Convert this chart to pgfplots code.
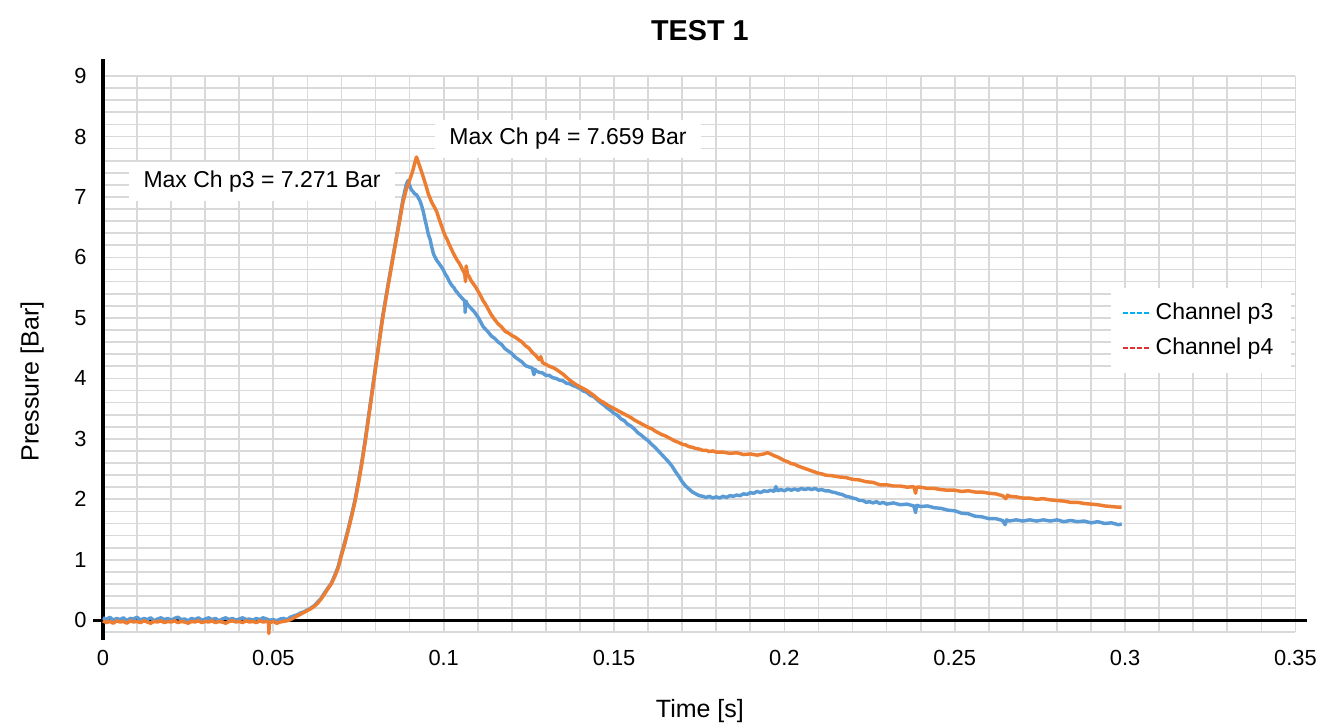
\documentclass[border=0pt]{standalone}
\usepackage{fontspec}
\setmainfont{Liberation Sans}
\usepackage{pgfplots}
\pgfplotsset{compat=1.18}
\definecolor{p3line}{HTML}{5B9BD5}
\definecolor{p4line}{HTML}{ED7D31}
\definecolor{p3leg}{HTML}{00B0F0}
\definecolor{p4leg}{HTML}{E03030}
\definecolor{gridgray}{HTML}{D9D9D9}

\begin{document}
\begin{tikzpicture}
\begin{axis}[
  scale only axis, width=414.8pt, height=193.5pt,
  xmin=0, xmax=0.35, ymin=-0.2, ymax=9,
  axis line style={draw=none},
  clip=false,
  xtick={0,0.05,0.1,0.15,0.2,0.25,0.3,0.35},
  xticklabels={0,0.05,0.1,0.15,0.2,0.25,0.3,0.35},
  ytick={0,1,2,3,4,5,6,7,8,9},
  yticklabels={0,1,2,3,4,5,6,7,8,9},
  extra y ticks={-0.2}, extra y tick labels={},
  extra y tick style={grid=major},
  minor x tick num=4, minor y tick num=4,
  major tick length=0pt, minor tick length=0pt,
  grid=both,
  major grid style={gridgray, line width=0.6pt},
  minor grid style={gridgray, line width=0.6pt},
  tick label style={font=\fontsize{7.6}{9}\selectfont, inner sep=0.5pt},
  xticklabel style={yshift=-5.6pt},
  yticklabel style={xshift=-5pt},
  legend style={at={(axis cs:0.3222,4.79)}, anchor=center, draw=none, fill=white,
    font=\fontsize{8}{10}\selectfont, inner xsep=4pt, inner ysep=3pt, row sep=1pt},
  legend cell align=left,
  legend image code/.code={\draw[#1] (0pt,0pt) -- (9pt,0pt);},
]
% bounding box of the whole chart
\path (axis cs:-0.03023,-1.7207) rectangle (axis cs:0.3575,10.258);

% axis lines
\draw[line width=1.1pt] (axis cs:0,-0.33) -- (axis cs:0,9.29);
\draw[line width=1.1pt] (axis cs:-0.003,0) -- (axis cs:0.3535,0);

% Channel p3
\addplot[p3line, line width=1.2pt, line join=round, forget plot] coordinates {
(0,0.04)(0.001,0.01)(0.002,0.05)(0.003,0.00)(0.004,0.03)(0.005,0.01)(0.006,0.04)(0.007,-0.01)(0.008,0.03)(0.009,0.02)
(0.010,0.05)(0.011,0.00)(0.012,0.03)(0.013,0.01)(0.014,0.04)(0.015,-0.01)(0.016,0.02)(0.017,0.04)(0.018,0.01)(0.019,0.03)
(0.020,0.00)(0.021,0.03)(0.022,0.05)(0.023,0.01)(0.024,0.02)(0.025,-0.01)(0.026,0.03)(0.027,0.01)(0.028,0.04)(0.029,0.00)
(0.030,0.02)(0.031,0.04)(0.032,0.01)(0.033,0.03)(0.034,-0.01)(0.035,0.02)(0.036,0.04)(0.037,0.01)(0.038,0.03)(0.039,0.00)
(0.040,0.02)(0.041,0.04)(0.042,0.01)(0.043,0.02)(0.044,0.00)(0.045,0.03)(0.046,0.01)(0.047,0.04)(0.048,0.02)(0.049,0.00)
(0.050,0.01)(0.051,-0.01)(0.052,0.02)(0.053,0.03)(0.054,0.01)(0.055,0.05)
(0.056,0.07)(0.057,0.09)(0.058,0.12)(0.059,0.14)(0.060,0.17)(0.061,0.20)(0.062,0.24)(0.063,0.30)(0.064,0.36)(0.065,0.45)
(0.066,0.53)(0.067,0.61)(0.068,0.74)(0.069,0.88)(0.070,1.10)(0.071,1.30)(0.072,1.52)(0.073,1.75)(0.074,2.00)(0.075,2.30)
(0.076,2.63)(0.077,3.00)(0.078,3.40)(0.079,3.80)(0.080,4.20)(0.081,4.60)(0.082,5.00)(0.083,5.33)(0.084,5.66)(0.085,5.98)
(0.086,6.30)(0.087,6.62)(0.088,6.95)(0.089,7.20)(0.0895,7.27)
(0.0900,7.19)(0.0905,7.12)(0.0910,7.09)(0.0915,7.05)(0.0920,7.04)(0.0925,6.99)(0.0930,6.94)(0.0935,6.86)(0.0940,6.76)(0.0945,6.63)
(0.0950,6.51)(0.0955,6.38)(0.0960,6.30)(0.0965,6.17)(0.0970,6.06)(0.0975,6.00)(0.0980,5.95)(0.0985,5.91)(0.0990,5.87)(0.0995,5.83)
(0.1000,5.78)(0.1005,5.72)(0.1010,5.68)(0.1015,5.62)(0.1020,5.57)(0.1025,5.53)(0.1030,5.50)(0.1035,5.45)(0.1040,5.42)(0.1045,5.38)
(0.1050,5.35)(0.1055,5.32)(0.1060,5.29)(0.1062,5.27)(0.1063,5.09)(0.1065,5.28)(0.1070,5.22)(0.1075,5.19)(0.1080,5.16)(0.1085,5.13)
(0.1090,5.10)(0.1095,5.06)(0.1100,5.02)(0.1105,4.97)(0.1110,4.92)(0.1115,4.86)(0.1120,4.83)(0.1130,4.77)(0.1140,4.70)(0.1150,4.66)
(0.1160,4.60)(0.1170,4.56)(0.1180,4.49)(0.1190,4.45)(0.1200,4.41)(0.1210,4.35)(0.1220,4.31)(0.1230,4.27)(0.1240,4.21)(0.1250,4.19)
(0.1260,4.17)(0.1265,4.06)(0.1268,4.15)(0.1270,4.13)(0.1280,4.10)(0.1290,4.09)(0.1300,4.05)(0.1310,4.05)(0.1320,4.01)(0.1330,4.00)
(0.1340,3.97)(0.1350,3.96)(0.1360,3.92)(0.1370,3.91)(0.1380,3.88)(0.1390,3.86)(0.1400,3.83)(0.1410,3.79)(0.1420,3.77)(0.1430,3.72)
(0.1440,3.70)(0.1450,3.65)(0.1460,3.60)(0.1470,3.56)(0.1480,3.51)(0.1490,3.47)(0.1500,3.42)(0.1510,3.39)(0.1520,3.33)(0.1530,3.30)
(0.1540,3.24)(0.1550,3.21)(0.1560,3.16)(0.1570,3.10)(0.1580,3.06)(0.1590,3.01)(0.1600,2.97)(0.1610,2.91)(0.1620,2.86)(0.1630,2.80)
(0.1640,2.74)(0.1650,2.68)(0.1660,2.62)(0.1670,2.55)(0.1680,2.46)(0.1690,2.38)(0.1700,2.29)(0.1710,2.22)(0.1720,2.17)(0.1730,2.12)
(0.1740,2.09)(0.1750,2.06)(0.1760,2.05)(0.1770,2.03)(0.1780,2.05)(0.1790,2.02)(0.1800,2.04)(0.1810,2.02)(0.1820,2.05)(0.1830,2.03)
(0.1840,2.06)(0.1850,2.05)(0.1860,2.07)(0.1870,2.06)(0.1880,2.09)(0.1890,2.08)(0.1900,2.11)(0.1910,2.10)(0.1920,2.13)(0.1930,2.11)
(0.1940,2.14)(0.1950,2.13)(0.1960,2.15)(0.1970,2.13)(0.1975,2.21)(0.1980,2.14)(0.1990,2.16)(0.2000,2.14)(0.2010,2.17)(0.2020,2.15)
(0.2030,2.17)(0.2040,2.15)(0.2050,2.18)(0.2060,2.16)(0.2070,2.18)(0.2080,2.16)(0.2090,2.18)(0.2100,2.15)(0.2110,2.16)(0.2120,2.14)
(0.2130,2.14)(0.2140,2.12)(0.2150,2.11)(0.2160,2.09)(0.2170,2.08)(0.2180,2.05)(0.2190,2.04)(0.2200,2.02)(0.2210,2.01)(0.2220,1.98)
(0.2230,1.98)(0.2240,1.95)(0.2250,1.96)(0.2260,1.94)(0.2270,1.96)(0.2280,1.93)(0.2290,1.95)(0.2300,1.92)(0.2320,1.94)(0.2340,1.91)
(0.2360,1.92)(0.2380,1.89)(0.2385,1.78)(0.2388,1.90)(0.2400,1.88)(0.2420,1.89)(0.2440,1.86)(0.2460,1.85)(0.2480,1.82)(0.2500,1.81)
(0.2520,1.77)(0.2540,1.76)(0.2560,1.72)(0.2580,1.71)(0.2600,1.68)(0.2620,1.68)(0.2640,1.65)(0.2648,1.58)(0.2652,1.66)(0.2660,1.64)
(0.2680,1.66)(0.2700,1.64)(0.2720,1.66)(0.2740,1.64)(0.2760,1.66)(0.2780,1.64)(0.2800,1.66)(0.2820,1.63)(0.2840,1.65)(0.2860,1.63)
(0.2880,1.64)(0.2900,1.61)(0.2920,1.63)(0.2940,1.60)(0.2960,1.61)(0.2980,1.58)(0.2990,1.59)
};

% Channel p4
\addplot[p4line, line width=1.2pt, line join=round, forget plot] coordinates {
(0,-0.01)(0.001,-0.04)(0.002,-0.02)(0.003,-0.05)(0.004,-0.01)(0.005,-0.03)(0.006,-0.02)(0.007,-0.05)(0.008,-0.01)(0.009,-0.03)
(0.010,-0.02)(0.011,-0.04)(0.012,-0.01)(0.013,-0.03)(0.014,-0.05)(0.015,-0.02)(0.016,-0.03)(0.017,-0.01)(0.018,-0.04)(0.019,-0.02)
(0.020,-0.03)(0.021,-0.01)(0.022,-0.04)(0.023,-0.02)(0.024,-0.03)(0.025,-0.05)(0.026,-0.02)(0.027,-0.03)(0.028,-0.01)(0.029,-0.04)
(0.030,-0.02)(0.031,-0.03)(0.032,-0.01)(0.033,-0.04)(0.034,-0.02)(0.035,-0.03)(0.036,-0.05)(0.037,-0.02)(0.038,-0.01)(0.039,-0.03)
(0.040,-0.02)(0.041,-0.04)(0.042,-0.01)(0.043,-0.03)(0.044,-0.02)(0.045,-0.04)(0.046,-0.01)(0.047,-0.03)(0.048,-0.02)(0.0486,-0.03)
(0.0487,-0.22)(0.0488,-0.03)(0.049,-0.04)(0.050,-0.02)(0.051,-0.05)(0.052,-0.03)(0.053,-0.02)(0.054,-0.01)(0.055,0.01)
(0.056,0.04)(0.057,0.07)(0.058,0.10)(0.059,0.13)(0.060,0.16)(0.061,0.19)(0.062,0.23)(0.063,0.28)(0.064,0.35)(0.065,0.43)
(0.066,0.52)(0.067,0.60)(0.068,0.72)(0.069,0.86)(0.070,1.07)(0.071,1.27)(0.072,1.49)(0.073,1.72)(0.074,1.97)(0.075,2.27)
(0.076,2.60)(0.077,2.96)(0.078,3.36)(0.079,3.76)(0.080,4.16)(0.081,4.56)(0.082,4.96)(0.083,5.30)(0.084,5.63)(0.085,5.95)
(0.086,6.27)(0.087,6.58)(0.088,6.90)(0.089,7.12)
(0.0900,7.28)(0.0905,7.36)(0.0910,7.45)(0.0915,7.56)(0.0920,7.66)(0.0923,7.62)(0.0927,7.55)(0.0930,7.50)(0.0935,7.42)(0.0940,7.33)
(0.0945,7.24)(0.0950,7.15)(0.0955,7.05)(0.0960,6.98)(0.0965,6.91)(0.0970,6.86)(0.0975,6.81)(0.0980,6.75)(0.0985,6.66)(0.0990,6.58)
(0.0995,6.50)(0.1000,6.42)(0.1005,6.35)(0.1010,6.30)(0.1015,6.23)(0.1020,6.17)(0.1025,6.11)(0.1030,6.05)(0.1035,6.00)(0.1040,5.95)
(0.1045,5.91)(0.1050,5.86)(0.1055,5.80)(0.1060,5.75)(0.1062,5.72)(0.1064,5.60)(0.1066,5.86)(0.1070,5.72)(0.1075,5.68)(0.1080,5.62)
(0.1085,5.58)(0.1090,5.54)(0.1095,5.50)(0.1100,5.45)(0.1105,5.40)(0.1110,5.35)(0.1115,5.29)(0.1120,5.25)(0.1130,5.15)(0.1140,5.05)
(0.1150,4.97)(0.1160,4.90)(0.1170,4.85)(0.1180,4.78)(0.1190,4.75)(0.1200,4.71)(0.1210,4.68)(0.1220,4.64)(0.1230,4.60)(0.1240,4.54)
(0.1250,4.50)(0.1260,4.43)(0.1270,4.38)(0.1280,4.31)(0.1285,4.36)(0.1290,4.26)(0.1300,4.23)(0.1310,4.20)(0.1320,4.18)(0.1330,4.15)
(0.1340,4.11)(0.1350,4.07)(0.1360,4.02)(0.1370,3.97)(0.1380,3.93)(0.1390,3.89)(0.1400,3.86)(0.1410,3.83)(0.1420,3.80)(0.1430,3.76)
(0.1440,3.72)(0.1450,3.67)(0.1460,3.63)(0.1470,3.60)(0.1480,3.56)(0.1490,3.53)(0.1500,3.50)(0.1510,3.47)(0.1520,3.44)(0.1530,3.41)
(0.1540,3.38)(0.1550,3.35)(0.1560,3.31)(0.1570,3.28)(0.1580,3.25)(0.1590,3.22)(0.1600,3.19)(0.1610,3.17)(0.1620,3.13)(0.1630,3.10)
(0.1640,3.07)(0.1650,3.05)(0.1660,3.02)(0.1670,2.99)(0.1680,2.96)(0.1690,2.94)(0.1700,2.91)(0.1710,2.90)(0.1720,2.87)(0.1730,2.86)
(0.1740,2.84)(0.1750,2.83)(0.1760,2.81)(0.1770,2.81)(0.1780,2.79)(0.1790,2.80)(0.1800,2.78)(0.1820,2.78)(0.1840,2.76)(0.1860,2.77)
(0.1880,2.74)(0.1900,2.75)(0.1920,2.73)(0.1940,2.75)(0.1950,2.77)(0.1960,2.75)(0.1970,2.72)(0.1980,2.70)(0.1990,2.67)(0.2000,2.64)
(0.2010,2.62)(0.2020,2.59)(0.2030,2.58)(0.2040,2.55)(0.2050,2.53)(0.2060,2.51)(0.2070,2.49)(0.2080,2.47)(0.2090,2.45)(0.2100,2.43)
(0.2110,2.42)(0.2120,2.40)(0.2140,2.39)(0.2160,2.37)(0.2180,2.36)(0.2200,2.33)(0.2220,2.32)(0.2240,2.29)(0.2260,2.28)(0.2280,2.24)
(0.2300,2.24)(0.2320,2.22)(0.2340,2.22)(0.2360,2.20)(0.2380,2.21)(0.2385,2.10)(0.2388,2.20)(0.2400,2.20)(0.2420,2.18)(0.2440,2.18)
(0.2460,2.16)(0.2480,2.15)(0.2500,2.15)(0.2520,2.13)(0.2540,2.14)(0.2560,2.12)(0.2580,2.12)(0.2600,2.10)(0.2620,2.09)(0.2640,2.06)
(0.2650,2.01)(0.2655,2.07)(0.2660,2.05)(0.2680,2.04)(0.2700,2.02)(0.2720,2.02)(0.2740,2.00)(0.2760,2.01)(0.2780,1.99)(0.2800,1.98)
(0.2820,1.97)(0.2840,1.95)(0.2860,1.95)(0.2880,1.93)(0.2900,1.92)(0.2920,1.91)(0.2940,1.89)(0.2960,1.88)(0.2980,1.87)(0.2990,1.87)
};

\addlegendimage{p3leg, line width=0.6pt, dash pattern=on 1.6pt off 0.8pt}
\addlegendentry{Channel p3}
\addlegendimage{p4leg, line width=0.6pt, dash pattern=on 1.6pt off 0.8pt}
\addlegendentry{Channel p4}

% labels
\node[font=\fontsize{8}{10}\selectfont, fill=white, inner xsep=5pt, inner ysep=3pt]
  at (axis cs:0.0467,7.26) {Max Ch p3 = 7.271 Bar};
\node[font=\fontsize{8}{10}\selectfont, fill=white, inner xsep=5pt, inner ysep=3pt]
  at (axis cs:0.1365,7.96) {Max Ch p4 = 7.659 Bar};
\node[font=\bfseries\fontsize{10}{12}\selectfont, inner sep=0pt] at (axis cs:0.1752,9.76) {TEST 1};
\node[font=\fontsize{8.7}{10}\selectfont, inner sep=0pt] at (axis cs:0.1752,-1.506) {Time [s]};
\node[font=\fontsize{8.7}{10}\selectfont, rotate=90, inner sep=0pt] at (axis cs:-0.0208,3.95) {Pressure [Bar]};
\end{axis}
\end{tikzpicture}
\end{document}
